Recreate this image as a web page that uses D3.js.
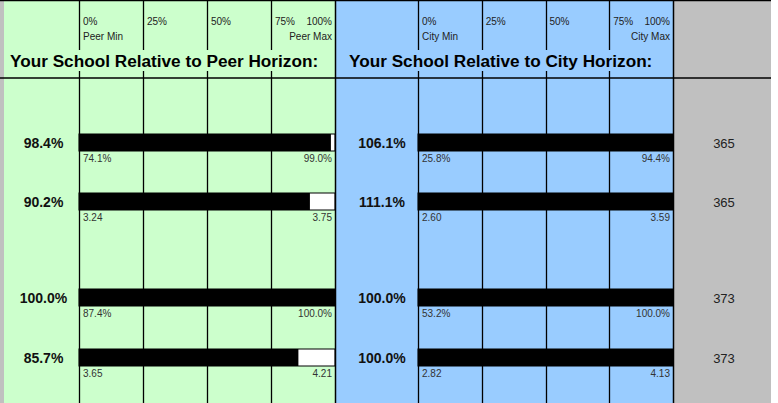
<!DOCTYPE html>
<html>
<head>
<meta charset="utf-8">
<script src="https://cdn.jsdelivr.net/npm/d3@7"></script>
<style>
  body { margin: 0; background: #fff; }
  text { font-family: Arial, "Liberation Sans", sans-serif; }
</style>
</head>
<body>
<div id="chart"></div>
<script>
// row data
var metrics = ["m1", "m2", "m3", "m4"];
var peerPct = [98.4, 90.2, 100.0, 85.7];
var peerMin = ["74.1%", "3.24", "87.4%", "3.65"];
var peerMax = ["99.0%", "3.75", "100.0%", "4.21"];
var cityPct = [106.1, 111.1, 100.0, 100.0];
var cityMin = ["25.8%", "2.60", "53.2%", "2.82"];
var cityMax = ["94.4%", "3.59", "100.0%", "4.13"];
var counts = [365, 365, 373, 373];
var tickVals = [0, 25, 50, 75, 100];
var tickLabels = ["0%", "25%", "50%", "75%", "100%"];

var width = 778, height = 403;
var svg = d3.select("#chart").append("svg").attr("width", width).attr("height", height);

// row tops (spreadsheet rows are not evenly spaced)
var rowY = d3.scaleOrdinal().domain(metrics).range([134, 193, 289, 349]);
var barH = 17;

var panels = [
  { name: "Peer", x0: 4, x1: 335.5, color: "#ccffcc", pct: peerPct, lo: peerMin, hi: peerMax,
    x: d3.scaleLinear().domain([0, 100]).range([79, 335]).clamp(true), labelX: 43.5, titleX: 10 },
  { name: "City", x0: 335.5, x1: 673.5, color: "#99ccff", pct: cityPct, lo: cityMin, hi: cityMax,
    x: d3.scaleLinear().domain([0, 100]).range([418, 673]).clamp(true), labelX: 382, titleX: 349 }
];

// backgrounds
svg.append("rect").attr("x", 0).attr("y", 0).attr("width", 771).attr("height", height).attr("fill", "#c0c0c0");
panels.forEach(function(p) {
  svg.append("rect").attr("x", p.x0).attr("y", 0).attr("width", p.x1 - p.x0).attr("height", height).attr("fill", p.color);
});

panels.forEach(function(p) {
  var g = svg.append("g");
  // grid lines at the quartiles
  g.selectAll("line.grid").data(tickVals.slice(0, 4)).enter().append("line")
    .attr("x1", function(d) { return Math.round(p.x(d)) + 0.5; })
    .attr("x2", function(d) { return Math.round(p.x(d)) + 0.5; })
    .attr("y1", 0).attr("y2", height)
    .attr("stroke", "#000").attr("stroke-width", 1.3);

  // header tick labels
  g.selectAll("text.tick").data(tickVals).enter().append("text")
    .attr("x", function(d, i) { return i === 4 ? p.x(d) - 3 : p.x(d) + 4; })
    .attr("y", 25)
    .attr("text-anchor", function(d, i) { return i === 4 ? "end" : "start"; })
    .attr("font-size", "10px").attr("fill", "#222")
    .text(function(d, i) { return tickLabels[i]; });
  g.append("text").attr("x", p.x(0) + 4).attr("y", 40).attr("font-size", "10px").attr("fill", "#222")
    .text(p.name + " Min");
  g.append("text").attr("x", p.x(100) - 3).attr("y", 40).attr("text-anchor", "end")
    .attr("font-size", "10px").attr("fill", "#222").text(p.name + " Max");

  // title with background masking the grid
  g.append("rect").attr("x", p.x0 + 2).attr("y", 50).attr("width", p.x1 - p.x0 - 4).attr("height", 21).attr("fill", p.color);
  g.append("text").attr("x", p.titleX).attr("y", 67).attr("font-size", "17.2px").attr("font-weight", "bold")
    .attr("fill", "#000").text("Your School Relative to " + p.name + " Horizon:");

  // bars
  var rows = g.selectAll("g.row").data(metrics).enter().append("g").attr("class", "row");
  rows.append("rect")
    .attr("x", p.x(0)).attr("y", function(d) { return rowY(d); })
    .attr("width", p.x(100) - p.x(0)).attr("height", barH)
    .attr("fill", "#fff").attr("stroke", "#000").attr("stroke-width", 1);
  rows.append("rect")
    .attr("x", p.x(0)).attr("y", function(d) { return rowY(d); })
    .attr("width", function(d, i) { return p.x(p.pct[i]) - p.x(0); }).attr("height", barH)
    .attr("fill", "#000");
  rows.append("text")
    .attr("x", p.labelX).attr("y", function(d) { return rowY(d) + 14; })
    .attr("text-anchor", "middle").attr("font-size", "14px").attr("font-weight", "bold").attr("fill", "#111")
    .text(function(d, i) { return p.pct[i].toFixed(1) + "%"; });
  rows.append("text")
    .attr("x", p.x(0) + 4).attr("y", function(d) { return rowY(d) + barH + 11; })
    .attr("font-size", "10px").attr("fill", "#333")
    .text(function(d, i) { return p.lo[i]; });
  rows.append("text")
    .attr("x", p.x(100) - 3).attr("y", function(d) { return rowY(d) + barH + 11; })
    .attr("text-anchor", "end").attr("font-size", "10px").attr("fill", "#333")
    .text(function(d, i) { return p.hi[i]; });
});

// counts column
svg.selectAll("text.count").data(metrics).enter().append("text")
  .attr("x", 724).attr("y", function(d) { return rowY(d) + 13.5; })
  .attr("text-anchor", "middle").attr("font-size", "13px").attr("fill", "#222")
  .text(function(d, i) { return counts[i]; });

// borders
svg.append("line").attr("x1", 0).attr("x2", 771).attr("y1", 0.5).attr("y2", 0.5).attr("stroke", "#000").attr("stroke-width", 1.5);
svg.append("line").attr("x1", 0).attr("x2", 771).attr("y1", 78).attr("y2", 78).attr("stroke", "#000").attr("stroke-width", 1.3);
[335.5, 673.5].forEach(function(x) {
  svg.append("line").attr("x1", x).attr("x2", x).attr("y1", 0).attr("y2", height).attr("stroke", "#000").attr("stroke-width", 1.5);
});
</script>
</body>
</html>
